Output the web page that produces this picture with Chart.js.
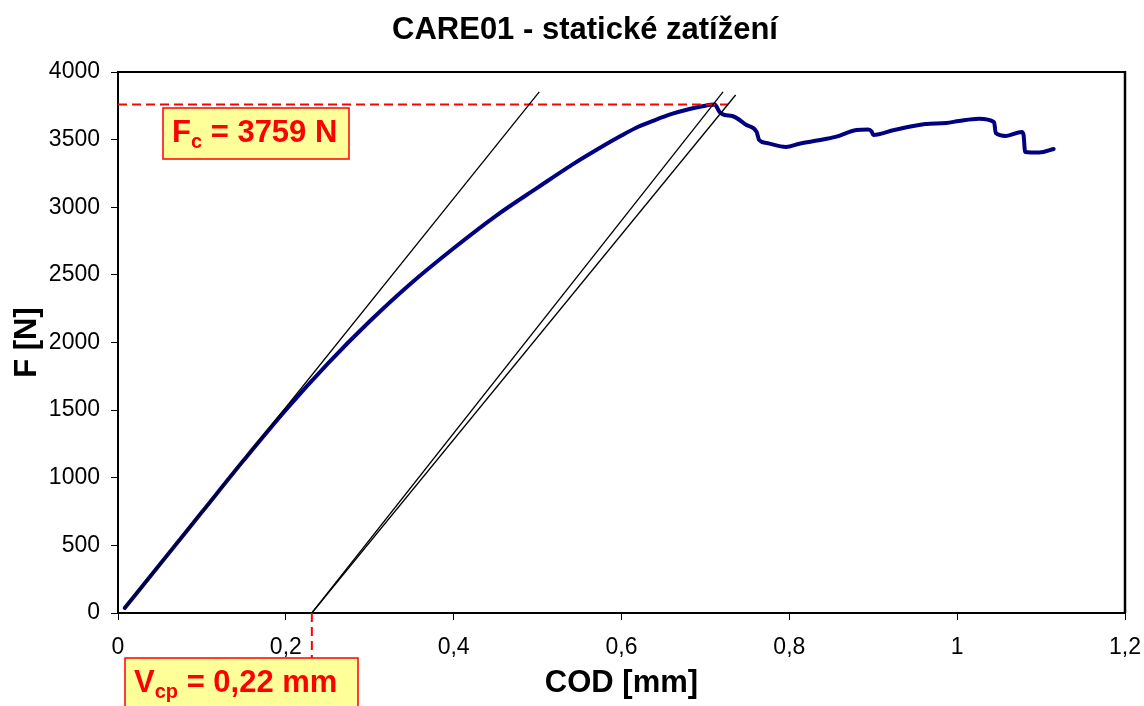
<!DOCTYPE html>
<html>
<head>
<meta charset="utf-8">
<script src="https://cdn.jsdelivr.net/npm/chart.js@4"></script>
<style>
    html, body { margin: 0; padding: 0; background: #fff; }
</style>
</head>
<body>
<canvas id="careChart" width="1144" height="706"></canvas>
<script>
// measured curve: COD [mm] vs F [N]
const codValues = [0.008, 0.05, 0.10, 0.15, 0.20, 0.25, 0.30, 0.35, 0.40, 0.45, 0.50, 0.54, 0.58, 0.60, 0.62, 0.64, 0.66, 0.68, 0.695, 0.711,
    0.717, 0.723, 0.732, 0.749, 0.761, 0.764, 0.773, 0.796, 0.812, 0.835, 0.855, 0.880, 0.894, 0.898, 0.900, 0.925, 0.962, 0.987, 1.002, 1.026,
    1.044, 1.046, 1.058, 1.077, 1.079, 1.081, 1.098, 1.115];
const forceValues = [37, 361, 746, 1131, 1502, 1844, 2157, 2442, 2697, 2935, 3145, 3310, 3460, 3530, 3595, 3645, 3690, 3725, 3745, 3759,
    3704, 3682, 3675, 3608, 3557, 3497, 3475, 3446, 3470, 3495, 3520, 3571, 3575, 3560, 3534, 3571, 3615, 3623, 3638, 3655,
    3630, 3549, 3527, 3557, 3540, 3409, 3405, 3431];

// construction lines
const tangentX = [0.008, 0.502];
const tangentF = [37, 3853];
const offsetX = [0.231, 0.721];
const offsetF = [0, 3853];
const secantX = [0.231, 0.736];
const secantF = [0, 3830];

// critical values
const fcForce = 3759;
const fcLineX = [0, 0.727];
const vcpPosition = 0.231;
const vcpLabel = "0,22";

const xTicks = [0, 0.2, 0.4, 0.6, 0.8, 1, 1.2];
const yTicks = [0, 500, 1000, 1500, 2000, 2500, 3000, 3500, 4000];

const FONT = "'Liberation Sans', Arial, sans-serif";
const toPoints = (xs, ys) => xs.map((x, i) => ({ x, y: ys[i] }));

const extras = {
    id: "extras",
    afterDraw(chart) {
        const { ctx, chartArea: a, scales } = chart;
        ctx.save();

        // top and right frame
        ctx.strokeStyle = "#000";
        ctx.lineWidth = 2;
        ctx.beginPath();
        ctx.moveTo(a.left, a.top);
        ctx.lineTo(a.right, a.top);
        ctx.stroke();
        ctx.lineWidth = 2.5;
        ctx.beginPath();
        ctx.moveTo(a.right, a.top - 1);
        ctx.lineTo(a.right, a.bottom);
        ctx.stroke();

        // vertical dashed Vcp marker, below the axis
        const vx = scales.x.getPixelForValue(vcpPosition);
        ctx.strokeStyle = "#ff0000";
        ctx.lineWidth = 2;
        ctx.setLineDash([9, 5]);
        ctx.beginPath();
        ctx.moveTo(vx, a.bottom);
        ctx.lineTo(vx, a.bottom + 46);
        ctx.stroke();
        ctx.setLineDash([]);

        // label boxes
        const drawBox = (x, y, w, h, main, sub, rest) => {
            ctx.fillStyle = "#ffff99";
            ctx.fillRect(x, y, w, h);
            ctx.strokeStyle = "#ff0000";
            ctx.lineWidth = 1.5;
            ctx.strokeRect(x, y, w, h);
            ctx.fillStyle = "#ff0000";
            ctx.textBaseline = "alphabetic";
            ctx.textAlign = "left";
            let tx = x + 9;
            const by = y + 34;
            ctx.font = "bold 31px " + FONT;
            ctx.fillText(main, tx, by);
            tx += ctx.measureText(main).width;
            ctx.font = "bold 20px " + FONT;
            ctx.fillText(sub, tx, by + 6);
            tx += ctx.measureText(sub).width;
            ctx.font = "bold 31px " + FONT;
            ctx.fillText(rest, tx, by);
        };
        drawBox(a.left + 45, a.top + 36, 186, 51, "F", "c", " = " + fcForce + " N");
        drawBox(a.left + 7, a.bottom + 45, 233, 60, "V", "cp", " = " + vcpLabel + " mm");

        // title
        ctx.fillStyle = "#000";
        ctx.font = "bold 31px " + FONT;
        ctx.textAlign = "center";
        ctx.textBaseline = "alphabetic";
        ctx.fillText("CARE01 - statické zatížení", 585, 39);
        ctx.restore();
    }
};

const lineStyle = { showLine: true, pointRadius: 0, pointHoverRadius: 0, fill: false };

new Chart(document.getElementById("careChart"), {
    type: "scatter",
    data: {
        datasets: [
            { ...lineStyle, data: toPoints(tangentX, tangentF), borderColor: "#000", borderWidth: 1.3, order: 0 },
            { ...lineStyle, data: toPoints(offsetX, offsetF), borderColor: "#000", borderWidth: 1.3, order: 0 },
            { ...lineStyle, data: toPoints(secantX, secantF), borderColor: "#000", borderWidth: 1.3, order: 0 },
            { ...lineStyle, data: toPoints(fcLineX, [fcForce, fcForce]), borderColor: "#ff0000", borderWidth: 2, borderDash: [9, 5], order: 1 },
            { ...lineStyle, data: toPoints(codValues, forceValues), borderColor: "#000080", borderWidth: 4,
              cubicInterpolationMode: "monotone", borderCapStyle: "round", borderJoinStyle: "round", order: 2 }
        ]
    },
    options: {
        responsive: false,
        animation: false,
        layout: { padding: { top: 72, right: 0, left: 0, bottom: 0 } },
        plugins: { legend: { display: false }, tooltip: { enabled: false }, title: { display: false } },
        scales: {
            x: {
                type: "linear",
                min: 0,
                max: 1.2,
                afterFit: s => { s.height = 93; s.paddingLeft = 0; s.paddingRight = 19; },
                afterBuildTicks: s => { s.ticks = xTicks.map(v => ({ value: v })); },
                ticks: {
                    color: "#000",
                    padding: 14,
                    font: { family: FONT, size: 23 },
                    callback: v => String(Number(v.toFixed(1))).replace(".", ",")
                },
                grid: { drawOnChartArea: false, drawTicks: true, tickLength: 7, color: "#000", lineWidth: 1 },
                border: { display: true, color: "#000", width: 2 },
                title: { display: true, text: "COD [mm]", color: "#000", padding: { top: 0, bottom: 4 },
                         font: { family: FONT, size: 31, weight: "bold" } }
            },
            y: {
                min: 0,
                max: 4000,
                afterFit: s => { s.width = 118; },
                afterBuildTicks: s => { s.ticks = yTicks.map(v => ({ value: v })); },
                ticks: { color: "#000", padding: 11, font: { family: FONT, size: 23 }, callback: v => String(v) },
                grid: { drawOnChartArea: false, drawTicks: true, tickLength: 7, color: "#000", lineWidth: 1 },
                border: { display: true, color: "#000", width: 2 },
                title: { display: true, text: "F [N]", color: "#000", padding: { top: 9, bottom: 0 },
                         font: { family: FONT, size: 31, weight: "bold" } }
            }
        }
    },
    plugins: [extras]
});
</script>
</body>
</html>
